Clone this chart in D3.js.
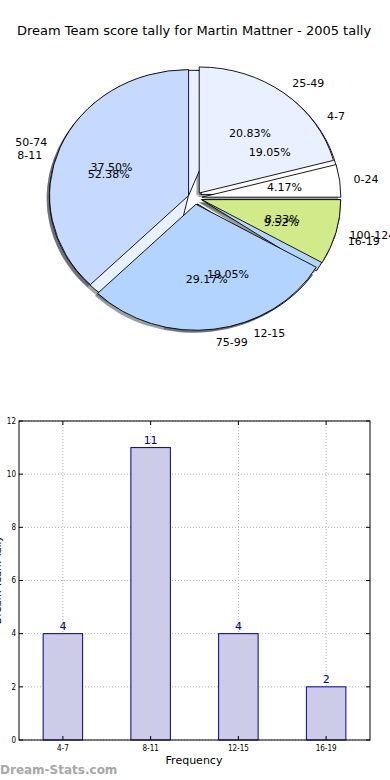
<!DOCTYPE html>
<html>
<head>
<meta charset="utf-8">
<script src="https://cdn.jsdelivr.net/npm/d3@7"></script>
<style>
body { margin: 0; background: #fff; }
text { font-family: "DejaVu Sans", sans-serif; }
</style>
</head>
<body>
<div id="chart"></div>
<script>
// data
var scoreRanges = ["0-24", "25-49", "50-74", "75-99", "100-124"];
var scoreCounts = [1, 5, 9, 7, 2];
var freqBins = ["4-7", "8-11", "12-15", "16-19"];
var freqCounts = [4, 11, 4, 2];
var sliceColors = ["#ffffff", "#e9f0ff", "#c6d9ff", "#b3d4ff", "#d1eb8b"];
var yTicks = [0, 2, 4, 6, 8, 10, 12];

var svgWidth = 390;
var svgHeight = 780;

var svg = d3.select("#chart")
    .append("svg")
    .attr("width", svgWidth)
    .attr("height", svgHeight);

svg.append("text")
    .attr("x", 194)
    .attr("y", 35)
    .attr("text-anchor", "middle")
    .attr("font-size", "13px")
    .text("Dream Team score tally for Martin Mattner - 2005 tally");

// ---- pie part (two pies on top of each other, like the original) ----
var pieCx = 195, pieCy = 198, pieRx = 139, pieRy = 126;
var px = d3.scaleLinear().domain([-1, 1]).range([pieCx - pieRx, pieCx + pieRx]);
var py = d3.scaleLinear().domain([-1, 1]).range([pieCy + pieRy, pieCy - pieRy]);
var explode = 0.05;

// angles counter clockwise from 3 o'clock
var pie = d3.pie().sort(null).startAngle(0).endAngle(2 * Math.PI);
var freqArcs = pie(freqCounts);
var scoreArcs = pie(scoreCounts);

function wedgePath(d, ox, oy) {
    var a0 = d.startAngle, a1 = d.endAngle, mid = (a0 + a1) / 2;
    var ex = ox + explode * Math.cos(mid);
    var ey = oy + explode * Math.sin(mid);
    var large = (a1 - a0) > Math.PI ? 1 : 0;
    return "M" + px(ex) + "," + py(ey) +
        "L" + px(ex + Math.cos(a0)) + "," + py(ey + Math.sin(a0)) +
        "A" + pieRx + "," + pieRy + " 0 " + large + " 0 " +
        px(ex + Math.cos(a1)) + "," + py(ey + Math.sin(a1)) + "Z";
}

function darker(c) {
    var r = d3.rgb(c);
    return d3.rgb(r.r * 0.3, r.g * 0.3, r.b * 0.3).toString();
}

var pieGroup = svg.append("g");

// shadows go under everything
[freqArcs, scoreArcs].forEach(function(arcs) {
    pieGroup.selectAll(null)
        .data(arcs)
        .enter()
        .append("path")
        .attr("d", d => wedgePath(d, -0.02, -0.02))
        .attr("fill", (d, i) => darker(sliceColors[i]))
        .attr("opacity", 0.5);
});

[freqArcs, scoreArcs].forEach(function(arcs) {
    pieGroup.selectAll(null)
        .data(arcs)
        .enter()
        .append("path")
        .attr("d", d => wedgePath(d, 0, 0))
        .attr("fill", (d, i) => sliceColors[i])
        .attr("stroke", "#000")
        .attr("stroke-width", 0.9)
        .attr("stroke-linejoin", "round");
});

function pieLabels(arcs, names, total) {
    arcs.forEach(function(d, i) {
        var mid = (d.startAngle + d.endAngle) / 2;
        var ex = explode * Math.cos(mid), ey = explode * Math.sin(mid);
        var lx = ex + 1.1 * Math.cos(mid);
        var ly = ey + 1.1 * Math.sin(mid);
        pieGroup.append("text")
            .attr("x", px(lx))
            .attr("y", py(ly))
            .attr("dy", "0.35em")
            .attr("text-anchor", lx > 0 ? "start" : "end")
            .attr("font-size", "11px")
            .text(names[i]);
        pieGroup.append("text")
            .attr("x", px(ex + 0.6 * Math.cos(mid)))
            .attr("y", py(ey + 0.6 * Math.sin(mid)))
            .attr("dy", "0.35em")
            .attr("text-anchor", "middle")
            .attr("font-size", "11px")
            .text((d.value / total * 100).toFixed(2) + "%");
    });
}

pieLabels(freqArcs, freqBins, d3.sum(freqCounts));
pieLabels(scoreArcs, scoreRanges, d3.sum(scoreCounts));

// ---- bar chart ----
var x = d3.scaleLinear().domain([-0.5, 3.5]).range([19, 370]);
var y = d3.scaleLinear().domain([0, 12]).range([740, 421]);
var barWidth = 0.45;

var barGroup = svg.append("g");

// grid
barGroup.selectAll(null)
    .data(yTicks)
    .enter()
    .append("line")
    .attr("x1", x(-0.5)).attr("x2", x(3.5))
    .attr("y1", d => y(d)).attr("y2", d => y(d))
    .attr("stroke", "#b0b0b0")
    .attr("stroke-dasharray", "1,2");

barGroup.selectAll(null)
    .data(freqBins)
    .enter()
    .append("line")
    .attr("x1", (d, i) => x(i)).attr("x2", (d, i) => x(i))
    .attr("y1", y(0)).attr("y2", y(12))
    .attr("stroke", "#b0b0b0")
    .attr("stroke-dasharray", "1,2");

barGroup.selectAll(null)
    .data(freqCounts)
    .enter()
    .append("rect")
    .attr("x", (d, i) => x(i - barWidth / 2))
    .attr("width", x(barWidth) - x(0))
    .attr("y", d => y(d))
    .attr("height", d => y(0) - y(d))
    .attr("fill", "#ccccE8")
    .attr("stroke", "#00008b")
    .attr("stroke-width", 1);

barGroup.selectAll(null)
    .data(freqCounts)
    .enter()
    .append("text")
    .attr("x", (d, i) => x(i))
    .attr("y", d => y(d) - 4)
    .attr("text-anchor", "middle")
    .attr("font-size", "11px")
    .attr("fill", "#00008b")
    .text(d => d);

// ticks, inward like old matplotlib
barGroup.selectAll(null)
    .data(yTicks)
    .enter()
    .append("path")
    .attr("d", d => "M" + x(-0.5) + "," + y(d) + "h4M" + x(3.5) + "," + y(d) + "h-4")
    .attr("stroke", "#000");

barGroup.selectAll(null)
    .data(freqBins)
    .enter()
    .append("path")
    .attr("d", (d, i) => "M" + x(i) + "," + y(0) + "v-4M" + x(i) + "," + y(12) + "v4")
    .attr("stroke", "#000");

barGroup.append("rect")
    .attr("x", x(-0.5))
    .attr("y", y(12))
    .attr("width", x(3.5) - x(-0.5))
    .attr("height", y(0) - y(12))
    .attr("fill", "none")
    .attr("stroke", "#000")
    .attr("stroke-width", 1);

barGroup.selectAll(null)
    .data(yTicks)
    .enter()
    .append("text")
    .attr("x", x(-0.5) - 3)
    .attr("y", d => y(d))
    .attr("dy", "0.35em")
    .attr("text-anchor", "end")
    .attr("font-size", "8px")
    .attr("font-stretch", "condensed")
    .text(d => d);

barGroup.selectAll(null)
    .data(freqBins)
    .enter()
    .append("text")
    .attr("x", (d, i) => x(i))
    .attr("y", 751)
    .attr("text-anchor", "middle")
    .attr("font-size", "8px")
    .attr("font-stretch", "condensed")
    .text(d => d);

barGroup.append("text")
    .attr("x", 194)
    .attr("y", 764)
    .attr("text-anchor", "middle")
    .attr("font-size", "11px")
    .text("Frequency");

// y label, cut off at the left edge in the original
barGroup.append("text")
    .attr("transform", "translate(1,580) rotate(-90)")
    .attr("text-anchor", "middle")
    .attr("font-size", "10px")
    .text("Dream Team Tally");

svg.append("text")
    .attr("x", 0)
    .attr("y", 774)
    .attr("font-size", "12px")
    .attr("font-weight", "bold")
    .attr("fill", "#a8a8a8")
    .text("Dream-Stats.com");
</script>
</body>
</html>
